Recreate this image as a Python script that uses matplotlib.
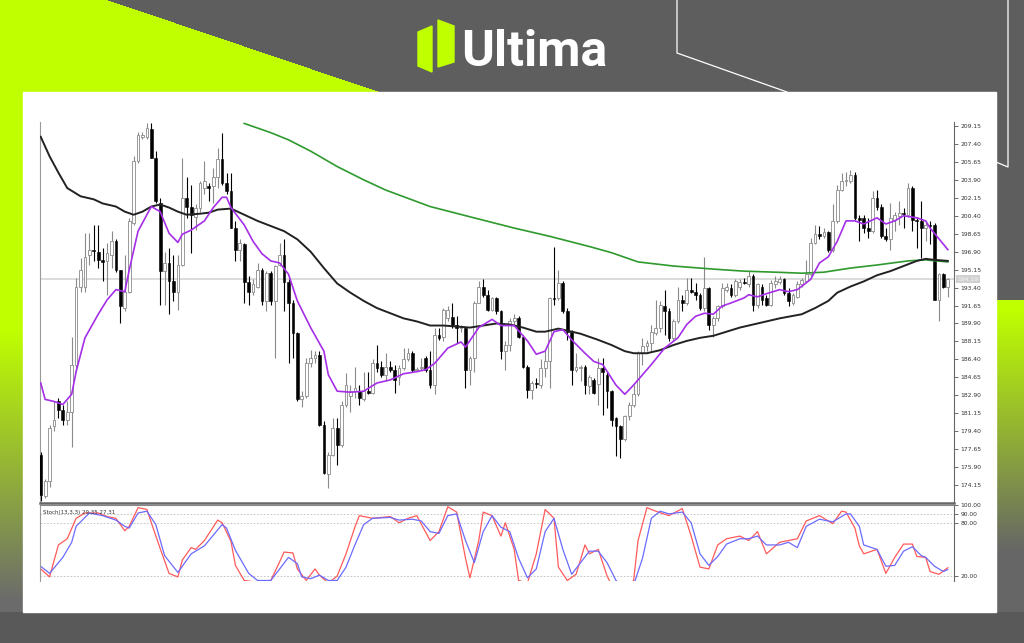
import numpy as np
import matplotlib.pyplot as plt
from matplotlib.patches import Polygon, Rectangle

# ---- candles (OHLC) ----
opens = [177.1, 173.1, 174.5, 179.9, 182.3, 181.5, 180.5, 181.3, 185.9, 193.5,
         193.5, 196.6, 197.1, 196.9, 196.1, 196.0, 196.6, 197.9, 195.1, 191.4,
         193.0, 199.7, 205.7, 208.1, 208.1, 208.9, 206.0, 201.6, 195.0, 195.8,
         194.0, 193.0, 195.6, 202.1, 201.3, 200.3, 201.2, 203.1, 203.3, 203.3,
         204.2, 205.9, 203.6, 202.8, 199.2, 197.1, 197.6, 193.9, 193.0, 193.5,
         195.1, 192.1, 194.8, 192.1, 195.6, 196.6, 193.9, 191.9, 189.0, 182.5,
         182.8, 186.0, 186.5, 186.8, 180.0, 175.2, 177.1, 179.7, 178.1, 182.0,
         182.8, 183.3, 183.3, 182.5, 183.3, 183.1, 186.0, 185.7, 184.9, 185.7,
         185.4, 184.7, 185.6, 186.4, 187.0, 185.4, 185.6, 186.5, 185.4, 183.9,
         188.8, 188.6, 190.4, 190.5, 189.8, 189.5, 189.5, 185.4, 186.5, 191.9,
         193.5, 192.7, 191.2, 192.4, 191.1, 187.2, 187.8, 190.1, 190.4, 188.6,
         185.7, 183.4, 184.1, 183.9, 185.6, 186.2, 192.4, 192.4, 193.8, 191.1,
         189.1, 185.4, 185.6, 185.7, 183.8, 184.4, 184.0, 185.6, 184.9, 183.3,
         180.7, 179.9, 178.6, 180.9, 182.0, 183.0, 187.0, 187.7, 188.0, 189.0,
         189.5, 191.6, 191.1, 188.5, 190.1, 192.2, 191.9, 193.2, 193.0, 192.7,
         191.4, 193.4, 189.8, 190.4, 191.6, 193.2, 193.4, 192.7, 193.5, 193.9,
         193.7, 194.5, 191.7, 193.5, 192.4, 191.7, 193.7, 193.9, 194.2, 192.9,
         191.9, 192.5, 193.7, 194.0, 194.7, 197.7, 198.6, 198.4, 198.8, 197.1,
         199.9, 202.9, 203.8, 203.8, 204.4, 200.2, 200.2, 199.2, 198.9, 202.1,
         201.3, 198.4, 198.1, 200.0, 200.4, 200.7, 200.5, 203.1, 200.0, 199.9,
         199.2, 199.5, 199.5, 192.2, 194.7, 193.5]
highs = [177.4, 174.7, 180.0, 182.3, 182.6, 182.0, 182.3, 188.6, 194.3, 196.3,
         198.7, 198.7, 199.5, 199.5, 197.3, 197.7, 198.9, 198.1, 195.1, 196.6,
         200.2, 206.2, 208.6, 208.6, 209.4, 209.4, 206.7, 202.1, 196.9, 197.3,
         196.6, 196.6, 206.0, 204.2, 203.4, 201.5, 203.8, 205.7, 203.6, 205.1,
         207.0, 208.5, 204.6, 204.6, 199.9, 198.1, 197.7, 194.5, 194.2, 195.8,
         195.3, 195.0, 195.0, 195.6, 197.7, 198.1, 194.2, 192.2, 189.1, 183.3,
         186.5, 187.3, 187.2, 187.2, 180.4, 177.4, 180.7, 180.7, 182.3, 185.1,
         183.9, 185.7, 183.9, 185.2, 185.2, 186.4, 187.8, 186.2, 187.0, 186.2,
         185.9, 185.9, 187.5, 187.5, 187.2, 185.7, 186.5, 186.7, 187.2, 189.5,
         189.5, 191.4, 191.6, 191.9, 190.6, 189.8, 189.6, 186.7, 192.1, 194.0,
         194.2, 193.2, 192.5, 192.5, 191.2, 188.2, 190.4, 190.8, 190.6, 188.8,
         185.9, 184.3, 184.6, 186.4, 187.2, 192.5, 197.4, 195.1, 194.0, 191.4,
         189.3, 187.0, 185.9, 185.9, 184.9, 184.6, 186.5, 186.5, 185.2, 183.4,
         180.8, 180.0, 181.0, 182.2, 183.9, 187.2, 188.5, 188.3, 189.8, 192.2,
         192.1, 193.2, 191.4, 190.3, 193.5, 192.7, 194.3, 194.3, 193.8, 192.9,
         196.4, 193.5, 190.6, 191.7, 193.8, 193.8, 193.7, 194.2, 194.2, 194.3,
         195.0, 194.7, 193.8, 193.7, 192.7, 194.1, 194.5, 194.5, 194.3, 193.4,
         192.9, 194.0, 194.3, 196.1, 198.2, 199.5, 199.4, 199.2, 198.9, 201.5,
         203.4, 204.6, 204.7, 204.9, 204.7, 200.5, 200.5, 200.2, 202.8, 202.9,
         201.5, 199.2, 201.6, 200.8, 201.8, 201.2, 203.6, 203.3, 200.3, 201.8,
         199.9, 199.9, 199.7, 194.8, 194.8, 194.3]
lows = [172.6, 172.9, 174.0, 179.4, 180.7, 180.0, 180.0, 177.9, 185.2, 193.0,
        193.0, 195.6, 196.0, 195.3, 194.0, 192.7, 195.3, 194.9, 189.9, 191.1,
        192.9, 199.5, 205.5, 207.9, 207.9, 206.0, 201.6, 191.7, 191.7, 190.8,
        192.1, 191.2, 195.5, 200.2, 196.8, 199.0, 200.8, 202.5, 201.8, 201.6,
        203.1, 203.4, 202.5, 199.2, 196.0, 196.0, 191.9, 191.7, 192.7, 193.4,
        191.7, 191.1, 191.7, 186.5, 195.5, 191.1, 186.0, 186.5, 182.3, 181.8,
        182.6, 185.7, 186.0, 179.9, 175.2, 173.9, 177.0, 176.1, 177.9, 181.8,
        181.3, 182.6, 182.0, 182.3, 183.0, 183.0, 185.2, 184.7, 184.3, 185.2,
        183.1, 183.9, 185.4, 186.2, 185.2, 185.4, 185.4, 185.2, 183.6, 183.0,
        188.3, 188.2, 190.1, 189.5, 188.0, 189.1, 183.6, 183.9, 185.2, 191.9,
        192.5, 191.1, 191.1, 190.8, 186.4, 185.4, 187.2, 189.8, 188.5, 185.6,
        182.6, 182.5, 183.6, 183.6, 184.7, 183.6, 191.7, 192.2, 190.9, 188.3,
        183.9, 185.2, 184.3, 183.0, 183.0, 183.0, 182.0, 181.0, 181.7, 179.9,
        177.0, 176.8, 178.4, 180.5, 181.8, 182.8, 185.9, 187.2, 187.2, 188.8,
        189.1, 188.8, 188.2, 188.2, 189.9, 191.1, 191.7, 192.9, 192.2, 191.2,
        191.1, 189.3, 188.6, 190.1, 191.4, 193.0, 192.5, 192.5, 193.2, 193.7,
        193.5, 191.1, 191.4, 191.7, 191.6, 191.6, 193.4, 193.7, 192.7, 191.6,
        191.7, 192.4, 193.5, 193.8, 194.5, 197.6, 198.1, 198.2, 196.9, 196.9,
        199.7, 202.8, 203.3, 203.6, 200.0, 197.9, 198.7, 198.2, 198.7, 201.0,
        198.2, 197.9, 197.1, 198.9, 199.5, 199.2, 200.3, 198.9, 197.3, 196.3,
        197.9, 197.6, 192.2, 190.1, 193.4, 192.5]
closes = [173.2, 174.5, 179.7, 180.5, 181.5, 180.5, 181.3, 185.9, 193.5, 195.1,
          196.4, 197.1, 197.0, 196.1, 195.9, 196.8, 197.9, 195.1, 191.6, 193.0,
          199.9, 205.7, 208.3, 208.3, 209.0, 206.0, 201.8, 195.0, 195.8, 194.0,
          193.0, 195.6, 202.1, 201.3, 200.5, 201.2, 203.6, 203.8, 203.1, 204.2,
          205.9, 203.6, 202.8, 199.2, 197.1, 197.7, 193.9, 193.0, 193.7, 195.1,
          192.1, 194.8, 192.1, 195.5, 196.6, 193.9, 191.9, 189.0, 182.5, 182.8,
          186.0, 186.5, 186.8, 180.0, 175.3, 177.1, 179.7, 178.1, 182.0, 183.9,
          183.3, 183.6, 182.6, 183.3, 183.1, 186.0, 185.6, 184.9, 185.7, 185.4,
          184.4, 185.6, 186.4, 187.0, 185.4, 185.5, 185.7, 185.4, 183.9, 188.8,
          188.5, 191.2, 191.2, 189.8, 189.5, 189.6, 185.4, 186.5, 191.9, 193.5,
          192.7, 191.2, 192.4, 191.1, 187.2, 187.8, 190.1, 190.4, 188.6, 185.7,
          183.4, 184.1, 184.0, 185.6, 186.2, 192.4, 192.3, 193.8, 191.1, 189.1,
          185.4, 185.7, 185.7, 183.9, 184.7, 183.1, 185.6, 185.2, 183.3, 180.5,
          179.9, 178.6, 180.9, 182.0, 183.0, 187.0, 187.7, 188.0, 189.1, 189.5,
          191.7, 191.1, 188.5, 190.1, 192.2, 191.9, 193.2, 193.0, 192.7, 191.4,
          193.4, 189.8, 190.4, 191.6, 193.4, 193.5, 192.7, 194.0, 193.9, 193.8,
          194.5, 191.7, 193.7, 192.2, 191.7, 193.8, 194.0, 194.2, 192.9, 192.1,
          192.7, 193.7, 194.1, 194.7, 197.7, 198.6, 198.4, 198.8, 197.1, 199.9,
          202.9, 203.8, 203.9, 204.4, 200.2, 200.0, 199.2, 198.9, 202.1, 201.3,
          198.4, 198.1, 200.2, 200.5, 200.7, 200.6, 203.1, 200.0, 199.9, 199.2,
          199.5, 199.4, 192.2, 194.7, 193.5, 194.2]

# ---- moving averages (bar index, value) ----
ma_black_idx = [0, 2, 4, 6, 9, 12, 14, 17, 19, 21, 23, 25, 27, 29, 31, 33, 36, 38, 40, 43,
                46, 49, 52, 55, 58, 61, 64, 67, 70, 73, 76, 79, 82, 85, 88, 91, 94, 97, 100,
                103, 106, 109, 112, 114, 117, 119, 122, 124, 126, 129, 132, 134, 137, 140,
                143, 146, 149, 152, 155, 158, 161, 164, 167, 172, 175, 178, 180, 183, 186,
                189, 192, 195, 198, 200, 202, 205]
ma_black = [208.1, 206.2, 204.6, 203.1, 202.3, 202.0, 201.6, 201.3, 200.8, 200.5, 200.8,
            201.3, 201.5, 201.2, 200.8, 200.5, 200.6, 200.7, 201.0, 201.1, 200.5, 199.9,
            199.4, 198.9, 198.1, 196.9, 195.3, 193.8, 192.9, 192.1, 191.4, 190.9, 190.4,
            190.1, 189.7, 189.7, 189.6, 189.5, 189.7, 189.9, 189.8, 189.5, 189.1, 189.1,
            189.4, 189.2, 188.9, 188.6, 188.3, 187.8, 187.2, 187.0, 187.0, 187.3, 187.8,
            188.2, 188.5, 188.7, 189.1, 189.5, 189.8, 190.1, 190.4, 190.8, 191.4, 192.1,
            192.9, 193.5, 194.0, 194.6, 195.0, 195.5, 196.0, 196.2, 196.1, 196.0]

ma_green_idx = [46, 52, 56, 61, 67, 73, 78, 83, 88, 97, 107, 115, 124, 129, 135, 143, 152,
                159, 166, 172, 177, 183, 189, 196, 200, 205]
ma_green = [209.4, 208.5, 207.8, 206.7, 205.2, 203.9, 202.9, 202.1, 201.3, 200.3, 199.2,
            198.4, 197.4, 196.8, 195.9, 195.5, 195.2, 195.0, 194.9, 194.8, 194.9, 195.3,
            195.6, 196.0, 196.1, 195.9]

ma_fast_idx = [0, 1, 3, 5, 7, 8, 10, 13, 15, 17, 19, 20, 22, 25, 27, 29, 31, 32, 34, 37,
               39, 41, 42, 43, 46, 48, 50, 52, 54, 56, 58, 61, 64, 65, 67, 70, 73, 76, 79,
               82, 85, 87, 89, 92, 95, 96, 99, 102, 104, 107, 110, 112, 114, 116, 118, 120,
               123, 125, 127, 130, 132, 134, 138, 141, 144, 146, 148, 150, 152, 154, 156,
               159, 160, 162, 164, 167, 169, 171, 174, 176, 178, 180, 182, 184, 186, 189,
               191, 193, 195, 198, 200, 201, 205]
ma_fast = [184.1, 182.5, 182.3, 182.0, 183.0, 185.2, 188.5, 190.8, 192.2, 193.2, 193.0,
           195.1, 198.9, 201.3, 200.8, 198.7, 197.8, 198.6, 199.0, 199.9, 201.2, 202.2,
           202.2, 201.2, 199.5, 197.9, 196.7, 196.0, 195.8, 194.7, 192.1, 189.5, 187.2,
           184.9, 183.3, 183.2, 183.3, 184.1, 184.4, 185.0, 185.2, 185.4, 186.0, 187.5,
           188.1, 187.6, 189.5, 190.3, 189.7, 189.7, 188.2, 186.9, 187.2, 189.1, 189.3,
           188.3, 187.0, 186.2, 185.9, 183.9, 183.0, 183.9, 185.9, 187.5, 188.5, 189.8,
           190.6, 190.9, 190.8, 191.6, 191.9, 192.4, 192.7, 192.5, 192.8, 193.2, 193.0,
           193.2, 194.2, 195.8, 196.4, 197.9, 199.9, 199.9, 199.6, 200.2, 199.6, 199.9,
           200.4, 200.2, 199.9, 199.2, 197.1]

# ---- stochastic (13,3,3) ----
stoch_k_idx = [0, 2, 4, 6, 8, 10, 13, 15, 17, 19, 20, 22, 24, 25, 27, 29, 31, 32, 34, 35,
               37, 40, 41, 43, 44, 46, 49, 51, 52, 54, 55, 57, 58, 60, 62, 63, 65, 67, 69,
               71, 72, 75, 79, 81, 83, 85, 88, 90, 92, 94, 96, 97, 99, 100, 102, 104, 105,
               107, 108, 110, 112, 114, 116, 117, 119, 121, 123, 124, 126, 128, 129, 132,
               134, 135, 137, 139, 142, 145, 147, 149, 151, 153, 155, 158, 160, 162, 164,
               167, 169, 171, 173, 176, 179, 181, 182, 184, 185, 186, 189, 191, 193, 195,
               197, 198, 200, 201, 203, 205]
stoch_k = [28, 19, 55, 62, 85, 91, 91, 87, 85, 71, 76, 97, 95, 80, 51, 23, 19, 38, 52, 50,
           60, 83, 80, 59, 32, 15, 13, 13, 15, 36, 47, 46, 28, 15, 28, 21, 12, 20, 45,
           75, 88, 85, 87, 80, 85, 88, 60, 70, 98, 92, 40, 18, 60, 92, 88, 65, 80,
           50, 15, 12, 45, 95, 85, 30, 15, 22, 55, 45, 50, 20, 10, 5,
           15, 60, 97, 93, 88, 96, 65, 30, 28, 55, 62, 65, 60, 70, 45,
           58, 60, 62, 82, 88, 79, 93, 92, 74, 54, 45, 50, 23, 41, 56,
           56, 42, 41, 25, 22, 29.35]
stoch_d_idx = [0, 2, 5, 7, 8, 11, 14, 17, 19, 20, 22, 24, 26, 28, 31, 33, 34, 37, 41, 42,
               44, 47, 49, 52, 54, 56, 58, 59, 61, 63, 65, 67, 69, 71, 73, 75, 79, 81, 84,
               86, 88, 90, 92, 94, 96, 98, 100, 102, 104, 106, 108, 110, 112, 114, 116,
               118, 120, 122, 124, 126, 128, 130, 132, 134, 136, 138, 140, 142, 145, 147,
               149, 151, 153, 155, 158, 160, 162, 164, 167, 169, 171, 173, 176, 179, 182,
               183, 185, 186, 189, 191, 193, 195, 197, 199, 200, 202, 204, 205]
stoch_d = [31, 23, 41, 58, 76, 91, 88, 83, 76, 74, 91, 93, 78, 43, 24, 38, 45, 54, 78, 74,
           49, 23, 15, 15, 28, 41, 34, 19, 17, 21, 15, 15, 30, 55, 78, 85, 86, 83, 84,
           82, 70, 68, 88, 90, 60, 35, 70, 88, 75, 70, 40, 18, 28, 70, 85,
           50, 22, 35, 48, 48, 35, 15, 8, 10, 40, 85, 93, 90, 92, 80,
           45, 32, 42, 56, 62, 62, 65, 55, 55, 58, 52, 76, 84, 81, 90,
           90, 76, 55, 50, 31, 32, 48, 53, 43, 41, 31, 25, 27.31]

price_ticks = [209.15, 207.40, 205.65, 203.90, 202.15, 200.40, 198.65, 196.90, 195.15,
               193.40, 191.65, 189.90, 188.15, 186.40, 184.65, 182.90, 181.15, 179.40,
               177.65, 175.90, 174.15]
last_price = 194.19
stoch_ticks = [100, 90, 80, 20]

W, H = 1024, 643
LIME = np.array([0.75, 1.0, 0.0])
GREY = np.array([0.37, 0.37, 0.37])

fig = plt.figure(figsize=(W / 100, H / 100), dpi=100)

# -- branded background --
bg = fig.add_axes([0, 0, 1, 1])
bg.set_xlim(0, W)
bg.set_ylim(H, 0)
bg.axis('off')
yy, xx = np.mgrid[0:H, 0:W]
img = np.ones((H, W, 3)) * GREY
tri = (yy < 92) & (xx < 108 + 272 * yy / 92)
img[tri] = LIME
t = np.clip((yy - 330) / 270, 0, 1)[..., None]
side = LIME * (1 - t) + np.array([0.42, 0.42, 0.42]) * t
left = (xx < 23) & (yy >= 92) & (yy < 612)
img[left] = side[left]
t2 = np.clip((yy - 310) / 240, 0, 1)[..., None]
side2 = LIME * (1 - t2) + np.array([0.40, 0.40, 0.40]) * t2
right = (xx >= 996) & (yy >= 300) & (yy < 612)
img[right] = side2[right]
img[yy >= 612] = [0.35, 0.35, 0.35]
bg.imshow(img, extent=(0, W, H, 0), aspect='auto', interpolation='bilinear')
bg.plot([677, 677, 787], [0, 53, 92], color='white', lw=0.9)
bg.plot([1008, 1008, 996], [0, 167, 162], color='white', lw=0.9)
bg.add_patch(Rectangle((23, 92), 973, 520, color='white'))
# logo
bg.add_patch(Polygon([(418, 32), (432, 26), (432, 72), (418, 66)], color=LIME))
bg.add_patch(Polygon([(438, 20), (454, 26), (454, 62), (438, 67)], color=LIME))
bg.text(461, 66, 'Ultima', color='white', fontsize=36, fontweight='bold',
        family='Roboto', va='baseline', ha='left')

n = len(opens)
x = np.arange(n)
o, h, l, c = map(np.array, (opens, highs, lows, closes))
up = c >= o

# -- price panel --
ax = fig.add_axes([40 / W, 1 - 503 / H, 914 / W, 381 / H])
ax.set_facecolor('white')
ax.axhline(last_price, color='#d9d9d9', lw=1.3, zorder=1)
ax.vlines(x[up], l[up], h[up], color='#8a8a8a', lw=0.8, zorder=2)
ax.vlines(x[~up], l[~up], h[~up], color='black', lw=0.8, zorder=2)
body = np.maximum(np.abs(c - o), 0.08)
ax.bar(x[up], body[up], bottom=np.minimum(o, c)[up], width=0.62,
       color='white', edgecolor='#8a8a8a', lw=0.6, zorder=3)
ax.bar(x[~up], body[~up], bottom=np.minimum(o, c)[~up], width=0.62,
       color='black', edgecolor='black', lw=0.4, zorder=3)
ax.plot(ma_green_idx, ma_green, color='#2e9a2e', lw=1.2, zorder=4)
ax.plot(ma_black_idx, ma_black, color='#222222', lw=1.4, zorder=4)
ax.plot(ma_fast_idx, ma_fast, color='#a52ee8', lw=1.2, zorder=5)
ax.set_xlim(-0.16, n + 0.4)
ax.set_ylim(172.4, 209.54)
ax.set_xticks([])
ax.yaxis.tick_right()
ax.set_yticks(price_ticks)
ax.set_yticklabels([f'{v:.2f}' for v in price_ticks])
ax.tick_params(axis='y', labelsize=4.3, length=3, width=0.6, colors='#555555',
               labelcolor='#333333', pad=1.5)
ax.spines['top'].set_visible(False)
ax.spines['left'].set_color('#9a9a9a')
ax.spines['right'].set_color('#666666')
ax.spines['bottom'].set_color('#666666')
ax.spines['bottom'].set_linewidth(1.8)
ax.text(1.004, last_price, f'{last_price:.2f}', transform=ax.get_yaxis_transform(),
        fontsize=4.3, color='#f4f4f4', va='center', ha='left',
        bbox=dict(boxstyle='square,pad=0.25', fc='#d0d0d0', ec='none'))

# -- stochastic panel --
sx = fig.add_axes([40 / W, 1 - 581 / H, 914 / W, 76 / H])
for lev in (90, 80, 20):
    sx.axhline(lev, color='#bdbdbd', lw=0.6, ls=(0, (2, 2)))
sx.plot(stoch_k_idx, stoch_k, color='#ff5a5a', lw=0.9)
sx.plot(stoch_d_idx, stoch_d, color='#6b6bff', lw=0.9)
sx.set_xlim(-0.16, n + 0.4)
sx.set_ylim(14.4, 100)
sx.set_xticks([])
sx.yaxis.tick_right()
sx.set_yticks(stoch_ticks)
sx.set_yticklabels([f'{v:.2f}' for v in stoch_ticks])
sx.tick_params(axis='y', labelsize=4.3, length=3, width=0.6, colors='#555555',
               labelcolor='#333333', pad=1.5)
sx.spines['bottom'].set_visible(False)
sx.spines['left'].set_color('#9a9a9a')
sx.spines['right'].set_color('#666666')
sx.spines['top'].set_color('#888888')
sx.text(0.003, 0.93, 'Stoch(13,3,3) 29.35 27.31', transform=sx.transAxes,
        fontsize=4.0, color='#333333', va='top', ha='left')

fig.savefig('out.png', dpi=100)
